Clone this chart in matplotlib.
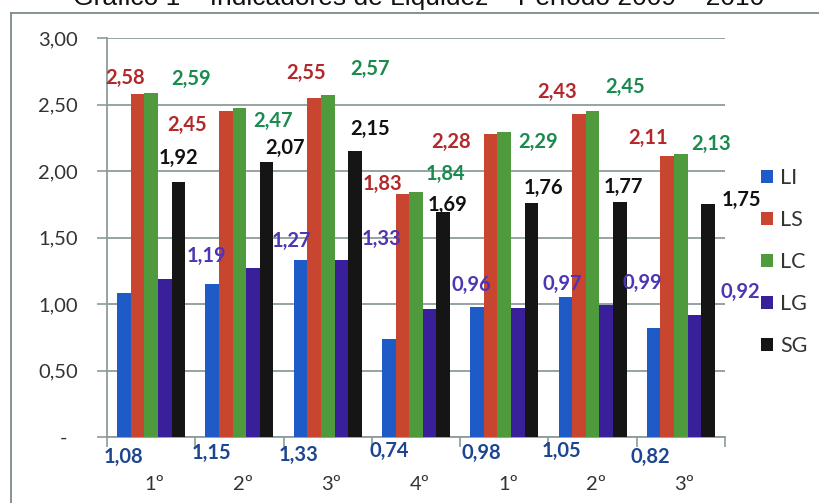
import matplotlib
matplotlib.use("Agg")
import matplotlib.pyplot as plt
from matplotlib.lines import Line2D
from matplotlib.patches import Patch
import numpy as np

# ---- data ----
categories = ["1º", "2º", "3º", "4º", "1º", "2º", "3º"]
series_names = ["LI", "LS", "LC", "LG", "SG"]
LI = [1.08, 1.15, 1.33, 0.74, 0.98, 1.05, 0.82]
LS = [2.58, 2.45, 2.55, 1.83, 2.28, 2.43, 2.11]
LC = [2.59, 2.47, 2.57, 1.84, 2.29, 2.45, 2.13]
LG = [1.19, 1.27, 1.33, 0.96, 0.97, 0.99, 0.92]
SG = [1.92, 2.07, 2.15, 1.69, 1.76, 1.77, 1.75]
ytick_values = [0, 0.5, 1.0, 1.5, 2.0, 2.5, 3.0]
ytick_labels = ["-  ", "0,50", "1,00", "1,50", "2,00", "2,50", "3,00"]
title = "Gráfico 1 – Indicadores de Liquidez – Período 2009 – 2010"

# ---- label placement (pixel offsets from bar top) ----
LS_dx = [-12, -39, -8, -20, -40, -22, -19]
LS_dy = [16, -14, 25, 10, -8, 22, 18]
LC_dx = [40, 34, 42, 29, 34, 32, 30]
LC_dy = [14, -12, 26, 18, -10, 24, 10]
SG_dx = [0, 18, 15, 4, 12, 4, 33]
SG_dy = [24, 14, 22, 7, 15, 15, 4]
LG_dx = [42, 38, 40, 42, 44, 36, 46]
LG_dy = [23, 27, 21, 24, 24, 22, 23]
LI_dx = [0, -1, -2, 0, 4, -4, -3]
LI_dy = [-20, -16, -18, -14, -16, -14, -20]

# ---- styles ----
bar_colors = ["#1F5BC6", "#C8452F", "#4E9A3C", "#3A1F9A", "#151515"]
lab_colors = ["#1D4590", "#B3282A", "#1A8A4E", "#4E35B5", "#111111"]
grid_c = "#8C9C9C"

W, H = 819, 503
fig = plt.figure(figsize=(W / 100, H / 100), dpi=100)
fig.patch.set_facecolor("white")
ax = fig.add_axes([107 / W, 1 - 437 / H, (725 - 107) / W, (437 - 38) / H])

x = np.arange(len(categories))
bw = 0.154
all_series = [LI, LS, LC, LG, SG]
for i, (vals, col) in enumerate(zip(all_series, bar_colors)):
    ax.bar(x + (i - 2) * bw, vals, width=bw, color=col, zorder=3, label=series_names[i])

ax.set_xlim(-0.5, len(categories) - 0.5)
ax.set_ylim(0, 3.0)

lab_font = dict(family="Lato", weight="bold", fontsize=14.5)

def annotate(vals, idx, dxs, dys, base=False):
    for k, v in enumerate(vals):
        xv = x[k] + (idx - 2) * bw
        yv = 0 if base else v
        ax.annotate(f"{v:.2f}".replace(".", ","), xy=(xv, yv), xytext=(dxs[k], dys[k]),
                    textcoords="offset pixels", ha="center", va="center",
                    color=lab_colors[idx], annotation_clip=False, zorder=5, **lab_font)

annotate(LS, 1, LS_dx, LS_dy)
annotate(LC, 2, LC_dx, LC_dy)
annotate(SG, 4, SG_dx, SG_dy)
annotate(LG, 3, LG_dx, LG_dy)
annotate(LI, 0, LI_dx, LI_dy, base=True)

# y axis
ax.set_yticks(ytick_values)
ax.set_yticklabels(ytick_labels, family="Lato", fontsize=14.5, color="#333333")
ax.tick_params(axis="y", length=7, width=1.2, color=grid_c, pad=14)
ax.yaxis.grid(True, color=grid_c, linewidth=1.3, zorder=0)

# x axis
ax.set_xticks(x + 0.04)
ax.set_xticklabels(categories, family="Lato", fontsize=14.5, color="#333333")
ax.tick_params(axis="x", which="major", length=0, pad=28)
ax.set_xticks(np.arange(-0.5, len(categories), 1.0), minor=True)
ax.tick_params(axis="x", which="minor", length=7, width=1.2, color=grid_c)

for s in ["top", "right"]:
    ax.spines[s].set_visible(False)
for s in ["left", "bottom"]:
    ax.spines[s].set_color(grid_c)
    ax.spines[s].set_linewidth(1.3)

# legend
handles = [Patch(facecolor=c, edgecolor="none") for c in bar_colors]
fig.legend(handles, series_names, loc="upper left",
           bbox_to_anchor=(761 / W, 1 - 168 / H), frameon=False,
           prop=dict(family="Lato", size=15.5), labelcolor="#333333",
           handlelength=0.58, handleheight=0.58, handletextpad=0.3,
           labelspacing=1.02, borderpad=0, borderaxespad=0)

# outer frame and cut title (the reference shows it cropped at the top edge)
fig.add_artist(Line2D([11 / W, 11 / W], [0, 1 - 13 / H], transform=fig.transFigure,
                      color="#7A8A8A", lw=1.3))
fig.add_artist(Line2D([11 / W, 1], [1 - 13 / H, 1 - 13 / H], transform=fig.transFigure,
                      color="#7A8A8A", lw=1.3))
fig.text(419 / W, 1 - 5 / H, title, ha="center", va="baseline",
         family="Liberation Sans", fontsize=19, color="#111111")

fig.savefig("out.png", dpi=100)
